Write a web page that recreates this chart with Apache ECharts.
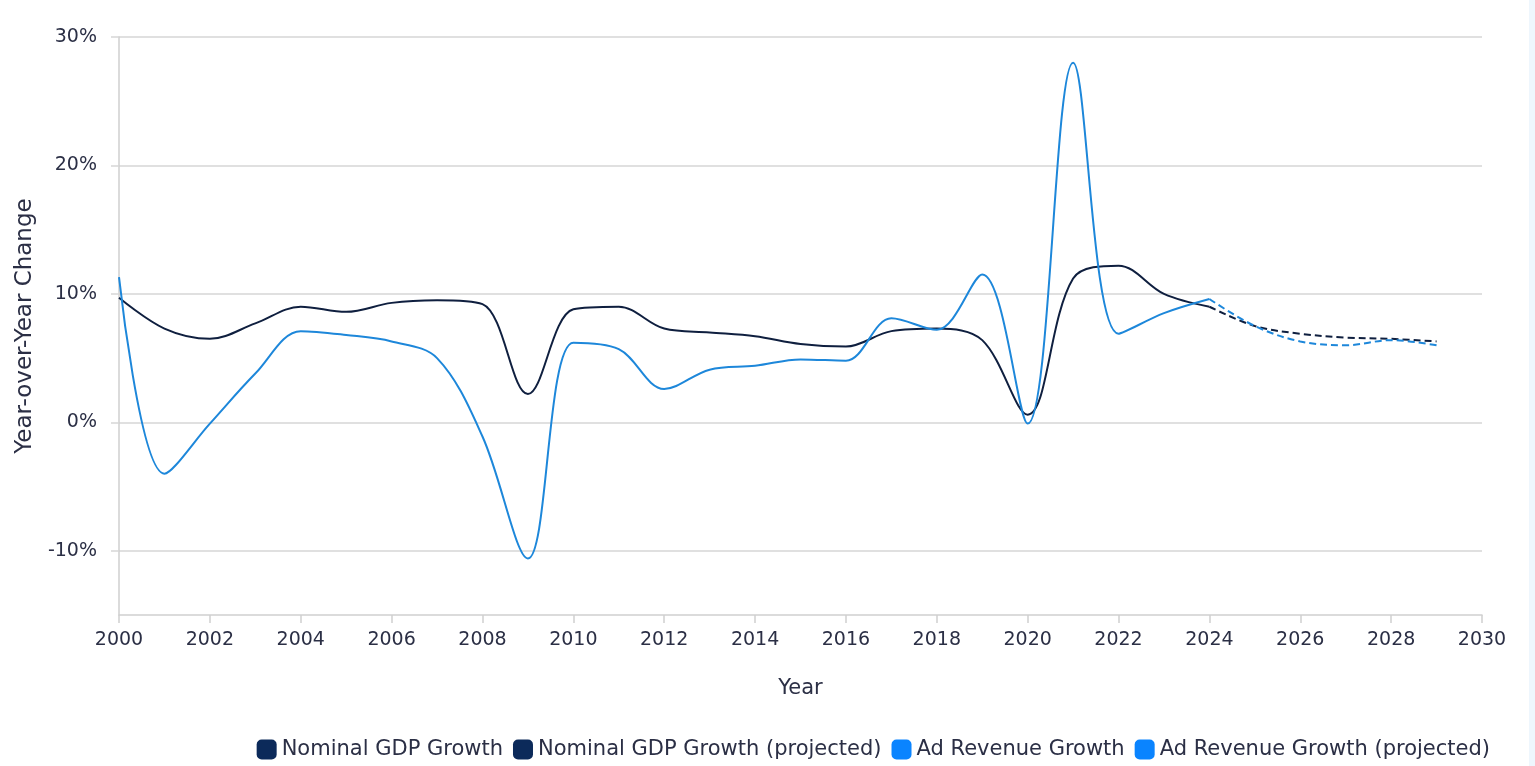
<!DOCTYPE html>
<html>
<head>
<meta charset="utf-8">
<script src="https://cdn.jsdelivr.net/npm/echarts@6/dist/echarts.min.js"></script>
<style>
html,body{margin:0;padding:0;background:#eef6fd;}
#chart{width:1529px;height:766px;background:#ffffff;}
</style>
</head>
<body>
<div id="chart"></div>
<script>
const years = [2000,2001,2002,2003,2004,2005,2006,2007,2008,2009,2010,2011,2012,2013,2014,2015,2016,2017,2018,2019,2020,2021,2022,2023,2024];
const gdpGrowth = [9.7,7.3,6.5,7.7,9.0,8.6,9.3,9.5,9.2,2.2,8.8,9.0,7.3,7.0,6.7,6.1,5.9,7.1,7.3,6.4,0.6,11.2,12.2,10.0,9.0];
const adGrowth = [11.3,-4.0,-0.1,3.8,7.1,6.8,6.3,5.0,-1.1,-10.6,6.2,5.7,2.6,4.1,4.4,4.9,4.8,8.1,7.2,11.5,-0.1,28.0,6.9,8.5,9.6];
const projYears = [2024,2025,2026,2027,2028,2029];
const gdpProjected = [9.0,7.5,6.9,6.6,6.5,6.3];
const adProjected = [9.6,7.5,6.3,6.0,6.4,6.0];
const yTickValues = [-10,0,10,20,30];
const seriesNames = ['Nominal GDP Growth','Nominal GDP Growth (projected)','Ad Revenue Growth','Ad Revenue Growth (projected)'];

const FONT = 'DejaVu Sans';
const TEXT = '#2b2f45';
const GDP_LINE = '#0f1f3f';
const AD_LINE = '#1d87da';
const GDP_ICON = '#0c2a5a';
const AD_ICON = '#0a84ff';

function pairs(xs, ys){ return xs.map((x,i)=>[x, ys[i]]); }

const chart = echarts.init(document.getElementById('chart'), null, {renderer:'canvas'});
chart.setOption({
  animation:false,
  textStyle:{fontFamily:FONT},
  grid:{left:119, right:1529-1482, top:37, bottom:766-615, containLabel:false},
  legend:{
    bottom:6, right:39, padding:0,
    icon:'roundRect',
    itemWidth:20, itemHeight:20, itemGap:10,
    textStyle:{fontFamily:FONT, fontSize:21, color:TEXT},
    data:[
      {name:seriesNames[0], itemStyle:{color:GDP_ICON}},
      {name:seriesNames[1], itemStyle:{color:GDP_ICON}},
      {name:seriesNames[2], itemStyle:{color:AD_ICON}},
      {name:seriesNames[3], itemStyle:{color:AD_ICON}}
    ]
  },
  xAxis:{
    type:'value', min:2000, max:2030, interval:2,
    name:'Year', nameLocation:'middle', nameGap:63,
    nameTextStyle:{fontFamily:FONT, fontSize:21, color:TEXT},
    axisLine:{show:true, onZero:false, lineStyle:{color:'#cfcfcf', width:1.5}},
    axisTick:{show:true, length:8, lineStyle:{color:'#cfcfcf', width:1.5}},
    axisLabel:{fontFamily:FONT, fontSize:19, color:TEXT, margin:16, formatter:v=>String(v)},
    splitLine:{show:false}
  },
  yAxis:{
    type:'value', min:-15, max:30, splitNumber:5,
    name:'Year-over-Year Change', nameLocation:'middle', nameGap:78,
    nameTextStyle:{fontFamily:FONT, fontSize:23, color:TEXT},
    axisLine:{show:true, onZero:false, lineStyle:{color:'#cfcfcf', width:1.5}},
    axisTick:{show:true, length:8, customValues:yTickValues, lineStyle:{color:'#d6d6d6', width:1.5}},
    axisLabel:{fontFamily:FONT, fontSize:19, color:TEXT, margin:22, customValues:yTickValues, formatter:v=>v+'%'},
    splitLine:{show:true, lineStyle:{color:'#d6d6d6', width:1.5}}
  },
  series:[
    {name:seriesNames[0], type:'line', data:pairs(years,gdpGrowth), smooth:0.35, showSymbol:false, symbol:'none', z:2,
     color:GDP_ICON, lineStyle:{color:GDP_LINE, width:2}},
    {name:seriesNames[1], type:'line', data:pairs(projYears,gdpProjected), smooth:0.35, showSymbol:false, symbol:'none', z:2,
     color:GDP_ICON, lineStyle:{color:GDP_LINE, width:2, type:[7,4]}},
    {name:seriesNames[2], type:'line', data:pairs(years,adGrowth), smooth:0.35, showSymbol:false, symbol:'none', z:3,
     color:AD_ICON, lineStyle:{color:AD_LINE, width:2}},
    {name:seriesNames[3], type:'line', data:pairs(projYears,adProjected), smooth:0.35, showSymbol:false, symbol:'none', z:3,
     color:AD_ICON, lineStyle:{color:AD_LINE, width:2, type:[7,4]}}
  ]
});
</script>
</body>
</html>
